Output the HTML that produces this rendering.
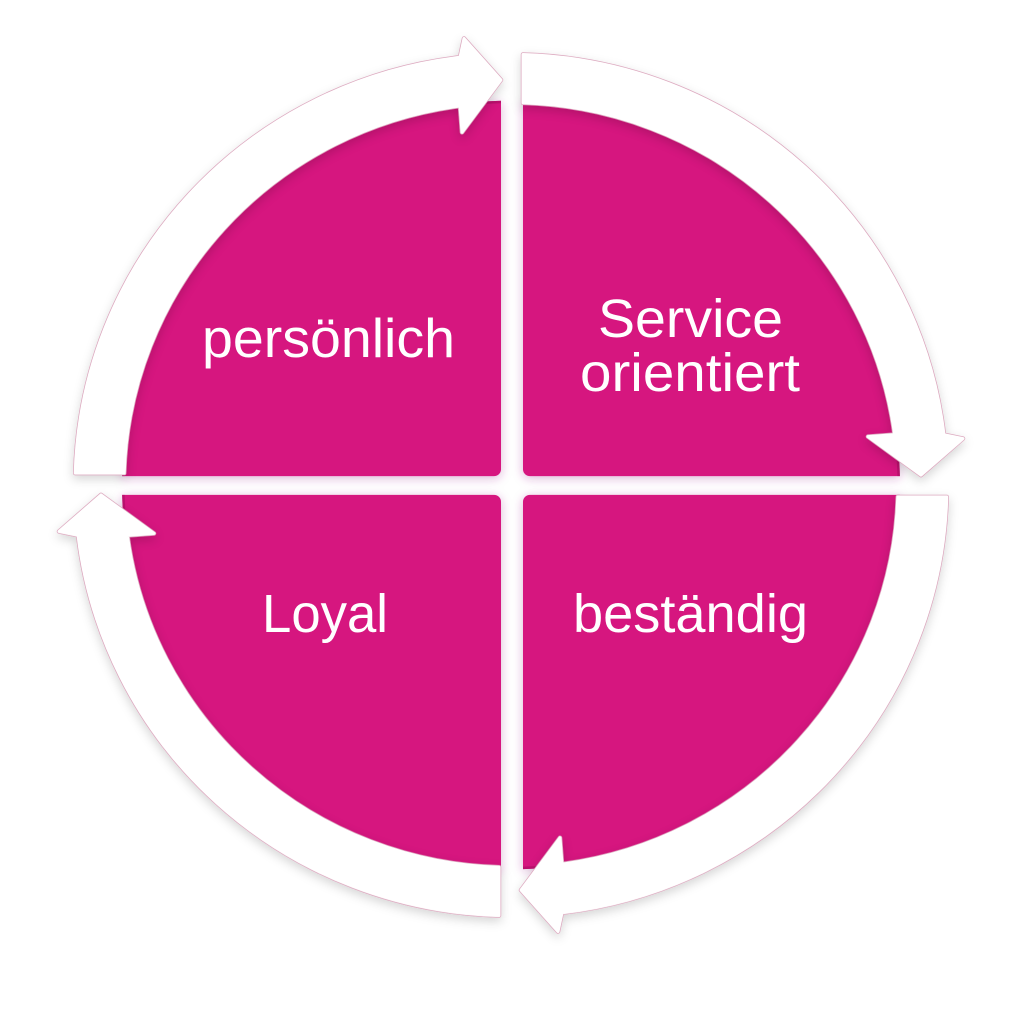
<!DOCTYPE html>
<html>
<head>
<meta charset="utf-8">
<style>
html,body{margin:0;padding:0;background:#ffffff;}
svg{display:block;}
text{font-family:"Liberation Sans", Arial, sans-serif;fill:#ffffff;}
</style>
</head>
<body>
<svg width="1024" height="1024" viewBox="0 0 1024 1024" xmlns="http://www.w3.org/2000/svg">
<defs>
  <filter id="qs" x="-20%" y="-20%" width="140%" height="140%">
    <feDropShadow dx="0" dy="2" stdDeviation="5" flood-color="#9a2a8a" flood-opacity="0.35"/>
  </filter>
  <filter id="as" x="-20%" y="-20%" width="140%" height="140%">
    <feDropShadow dx="0" dy="4" stdDeviation="5" flood-color="#000000" flood-opacity="0.16"/>
  </filter>
  <clipPath id="disc">
    <ellipse cx="0" cy="0" rx="389" ry="389"/>
  </clipPath>
  <clipPath id="quads">
    <rect x="-420" y="-420" width="410" height="411" rx="7"/>
    <rect x="12" y="-420" width="410" height="411" rx="7"/>
    <rect x="-420" y="10" width="410" height="420" rx="7"/>
    <rect x="12" y="10" width="410" height="420" rx="7"/>
  </clipPath>
  <path id="arr" d="M -435.8 -12 A 436 436 0 0 1 -51 -433 L -47 -452 L -10 -410 L -49 -357 L -51 -383.6 A 387 387 0 0 0 -386.8 -12 Z"/>
</defs>

<g transform="translate(511,485) scale(1,0.988)">
  <!-- quadrants -->
  <g filter="url(#qs)">
    <g clip-path="url(#disc)" fill="#D6137F">
      <rect x="-420" y="-420" width="410" height="411" rx="7"/>
      <rect x="12" y="-420" width="410" height="411" rx="7"/>
      <rect x="-420" y="10" width="410" height="420" rx="7"/>
      <rect x="12" y="10" width="410" height="420" rx="7"/>
    </g>
  </g>
  <g clip-path="url(#quads)">
    <ellipse cx="0" cy="0" rx="388" ry="388" fill="none" stroke="#a80f63" stroke-width="3" opacity="0.6" clip-path="url(#disc)"/>
  </g>

  <!-- arrows -->
  <g filter="url(#as)">
    <g>
      <use href="#arr" fill="none" stroke="#dba6bd" stroke-width="4.5" stroke-linejoin="round"/>
      <use href="#arr" fill="#ffffff" stroke="#ffffff" stroke-width="3" stroke-linejoin="round"/>
    </g>
    <g transform="rotate(90)">
      <use href="#arr" fill="none" stroke="#dba6bd" stroke-width="4.5" stroke-linejoin="round"/>
      <use href="#arr" fill="#ffffff" stroke="#ffffff" stroke-width="3" stroke-linejoin="round"/>
    </g>
    <g transform="rotate(180)">
      <use href="#arr" fill="none" stroke="#dba6bd" stroke-width="4.5" stroke-linejoin="round"/>
      <use href="#arr" fill="#ffffff" stroke="#ffffff" stroke-width="3" stroke-linejoin="round"/>
    </g>
    <g transform="rotate(270)">
      <use href="#arr" fill="none" stroke="#dba6bd" stroke-width="4.5" stroke-linejoin="round"/>
      <use href="#arr" fill="#ffffff" stroke="#ffffff" stroke-width="3" stroke-linejoin="round"/>
    </g>
  </g>
</g>

<!-- labels -->
<text x="328.5" y="357" font-size="55" text-anchor="middle" textLength="253" lengthAdjust="spacingAndGlyphs">persönlich</text>
<text x="690.5" y="337" font-size="54" text-anchor="middle" textLength="185" lengthAdjust="spacingAndGlyphs">Service</text>
<text x="690" y="391" font-size="54" text-anchor="middle" textLength="220" lengthAdjust="spacingAndGlyphs">orientiert</text>
<text x="325" y="632" font-size="54" text-anchor="middle" textLength="126" lengthAdjust="spacingAndGlyphs">Loyal</text>
<text x="690.5" y="632" font-size="54" text-anchor="middle" textLength="235" lengthAdjust="spacingAndGlyphs">beständig</text>
</svg>
</body>
</html>
